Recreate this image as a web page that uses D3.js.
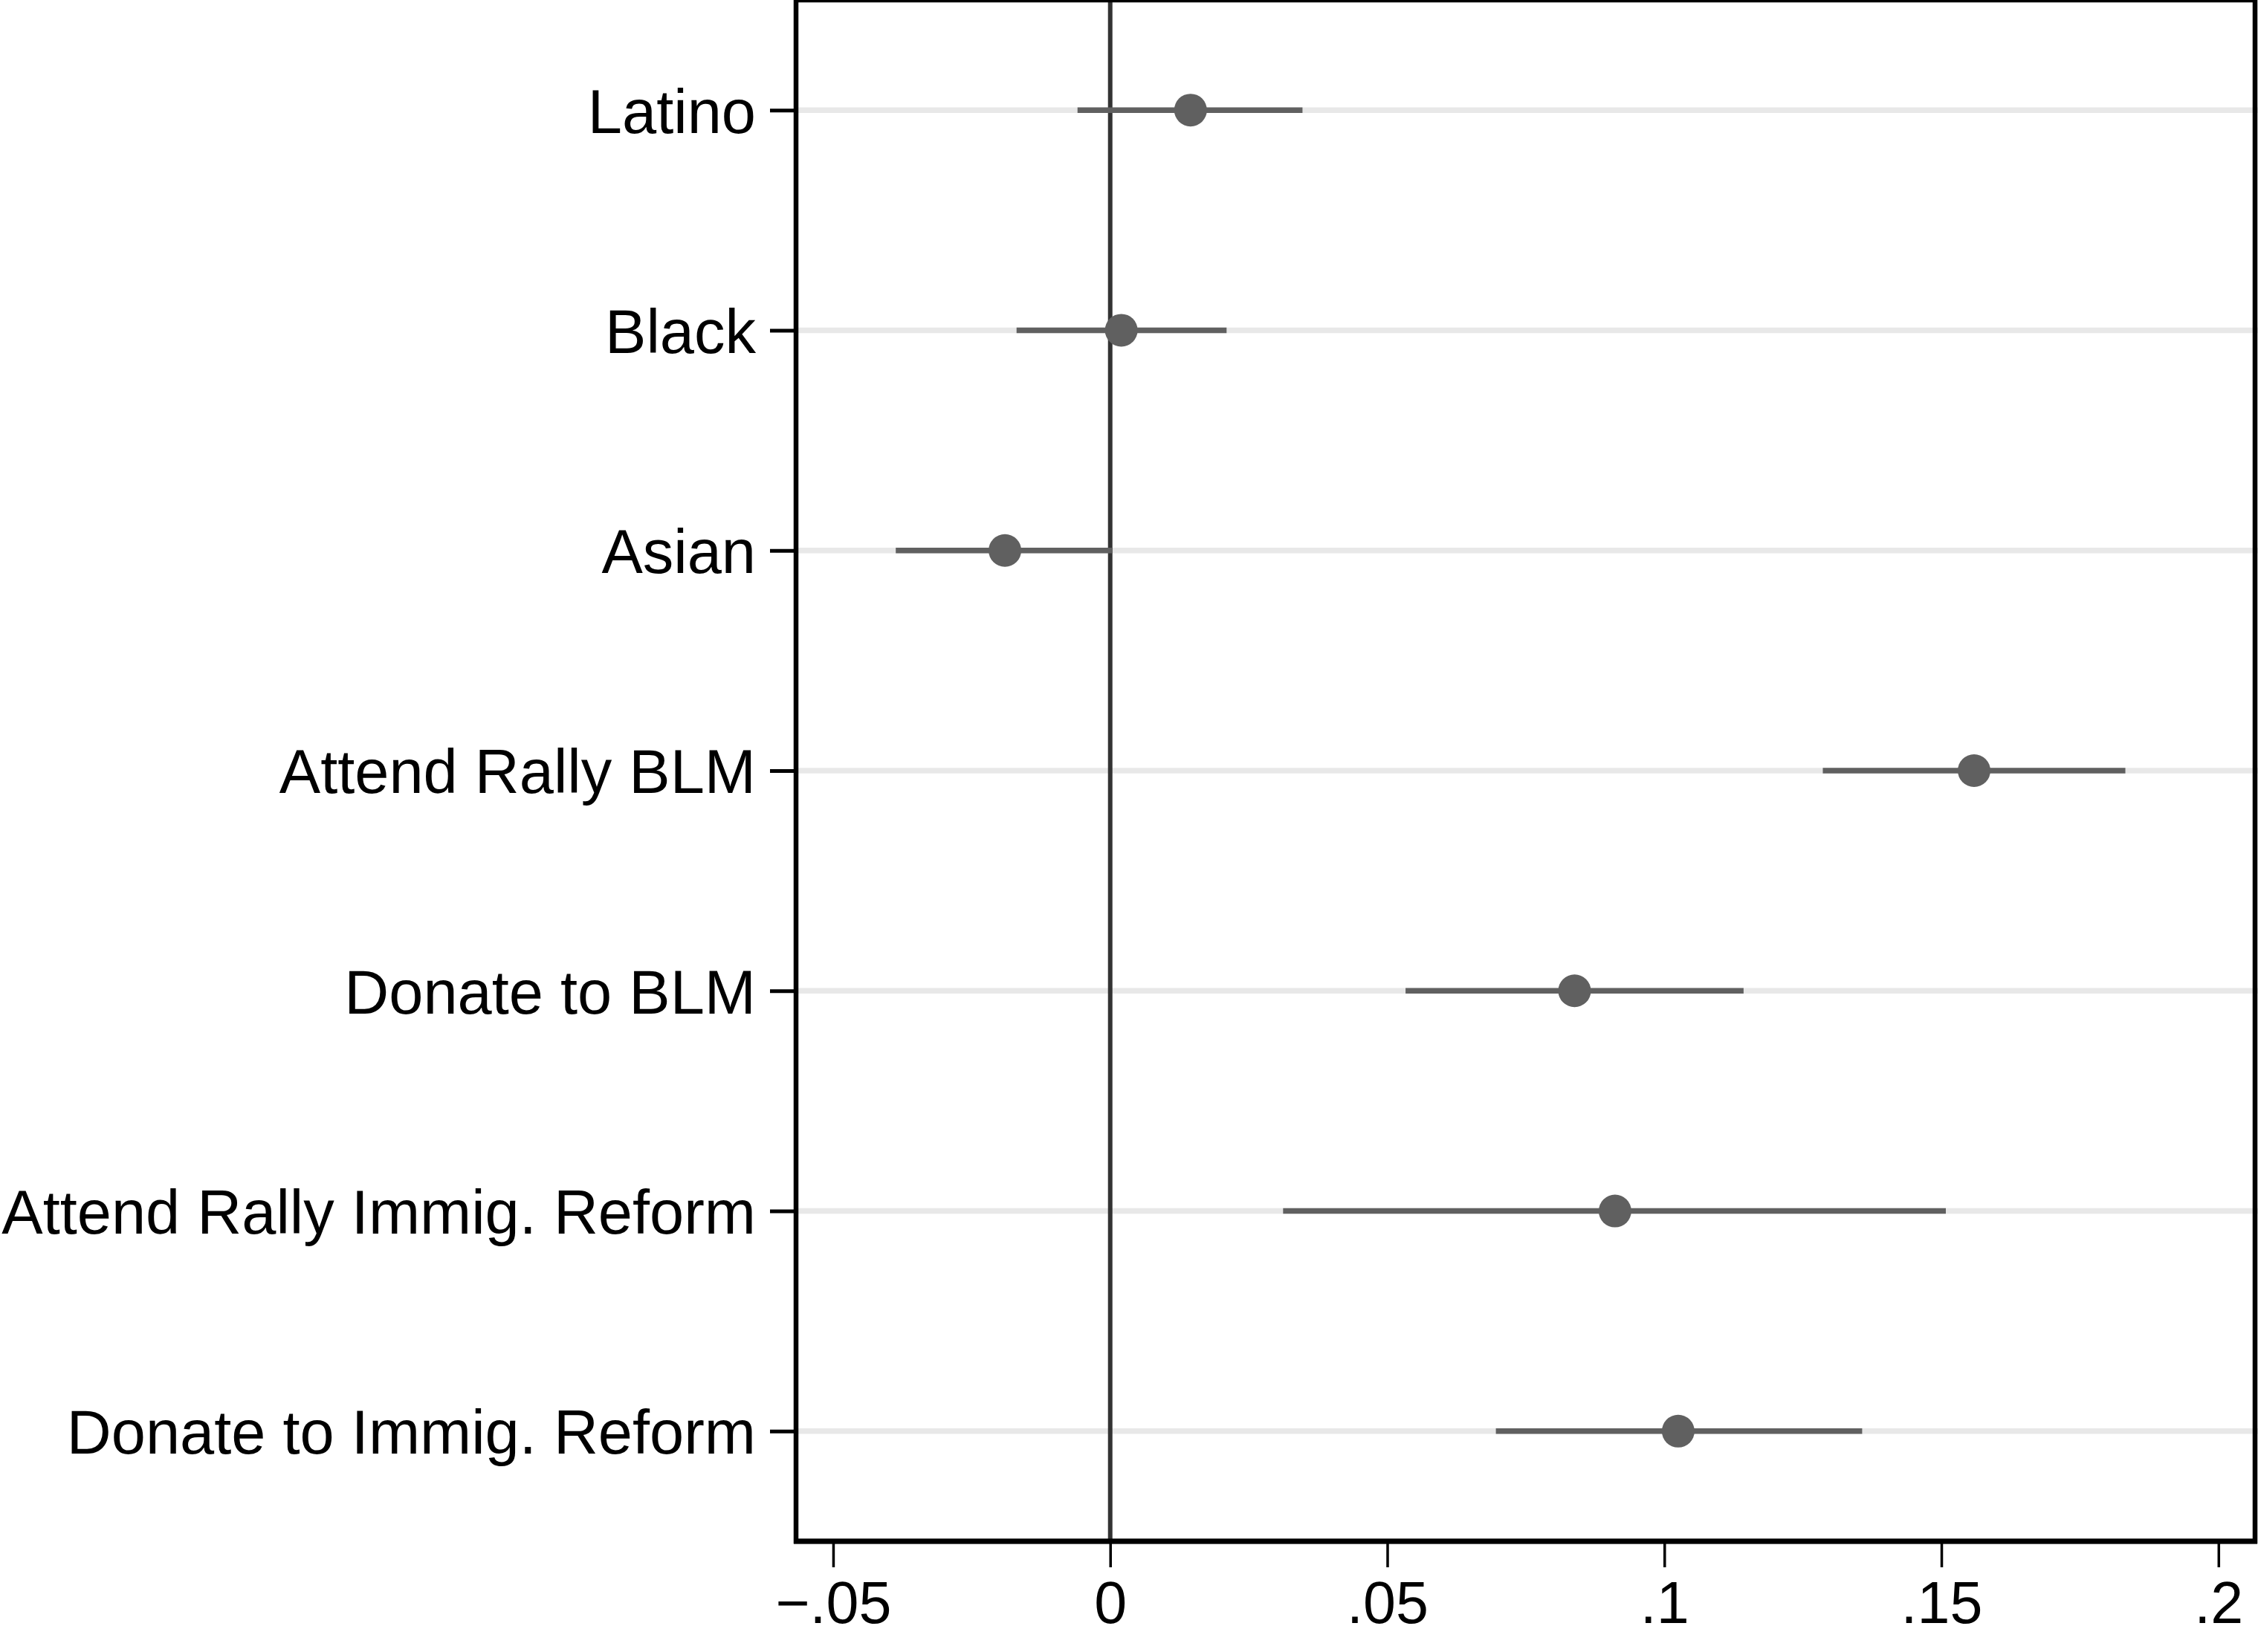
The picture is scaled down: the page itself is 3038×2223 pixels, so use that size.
<!DOCTYPE html>
<html>
<head>
<meta charset="utf-8">
<title>Coefficient plot</title>
<script src="https://d3js.org/d3.v7.min.js"></script>
<style>
    body { margin: 0; background: #fff; }
    svg { display: block; }
    .tick text { font-family: "Liberation Sans", Arial, Helvetica, sans-serif; fill: #000; }
</style>
</head>
<body>
<script>
(function(){    // wrapper

// Chart data
var categories = ["Latino", "Black", "Asian", "Attend Rally BLM", "Donate to BLM",
                  "Attend Rally Immig. Reform", "Donate to Immig. Reform"];
var estimates = [0.0145, 0.0020, -0.0190, 0.1559, 0.0838, 0.0911, 0.1025];
var ciLower   = [-0.0059, -0.0169, -0.0387, 0.1286, 0.0533, 0.0312, 0.0696];
var ciUpper   = [0.0347, 0.0210, 0.0004, 0.1832, 0.1143, 0.1508, 0.1357];
var xTicks = [-0.05, 0, 0.05, 0.1, 0.15, 0.2];
var xTickLabels = ["\u2212.05", "0", ".05", ".1", ".15", ".2"];

window.onload = setChart;

function setChart(){
    var width = 3038,
        height = 2223,
        plot = {left: 1071, right: 3034, top: 0, bottom: 2074};

    var svg = d3.select("body")
        .append("svg")
        .attr("width", width)
        .attr("height", height);

    // x runs a little past the labelled ticks on both sides
    var x = d3.scaleLinear()
        .domain([-0.0567, 0.2066])
        .range([plot.left, plot.right]);

    // one row per category, half a row of padding top and bottom
    var y = d3.scaleLinear()
        .domain([0.5, categories.length + 0.5])
        .range([plot.top, plot.bottom]);

    var rows = categories.map(function(c, i){
        return {name: c, pos: i + 1, est: estimates[i], lo: ciLower[i], hi: ciUpper[i]};
    });

    // light horizontal grid at each category
    svg.selectAll(".grid")
        .data(rows)
        .enter()
        .append("line")
        .attr("class", "grid")
        .attr("x1", plot.left)
        .attr("x2", width)
        .attr("y1", d => y(d.pos))
        .attr("y2", d => y(d.pos))
        .style("stroke", "#e8e8e8")
        .style("stroke-width", 7.5);

    // reference line at zero
    svg.append("line")
        .attr("x1", x(0))
        .attr("x2", x(0))
        .attr("y1", plot.top)
        .attr("y2", plot.bottom)
        .style("stroke", "#333")
        .style("stroke-width", 6);

    // confidence intervals
    svg.selectAll(".ci")
        .data(rows)
        .enter()
        .append("line")
        .attr("class", "ci")
        .attr("x1", d => x(d.lo))
        .attr("x2", d => x(d.hi))
        .attr("y1", d => y(d.pos))
        .attr("y2", d => y(d.pos))
        .style("stroke", "#606060")
        .style("stroke-width", 7.5);

    // point estimates
    svg.selectAll(".pt")
        .data(rows)
        .enter()
        .append("circle")
        .attr("class", "pt")
        .attr("cx", d => x(d.est))
        .attr("cy", d => y(d.pos))
        .attr("r", 22)
        .style("fill", "#606060");

    // plot frame
    svg.append("rect")
        .attr("x", plot.left)
        .attr("y", plot.top)
        .attr("width", plot.right - plot.left)
        .attr("height", plot.bottom - plot.top)
        .style("fill", "none")
        .style("stroke", "#000")
        .style("stroke-width", 6.5);

    // y axis with category labels
    var yAxis = d3.axisLeft(y)
        .tickValues(rows.map(d => d.pos))
        .tickFormat((d, i) => categories[i])
        .tickSize(33)
        .tickPadding(19);

    var gy = svg.append("g")
        .attr("transform", "translate(" + (plot.left - 2) + ",0)")
        .call(yAxis);
    gy.select(".domain").remove();
    gy.selectAll(".tick line").style("stroke", "#000").style("stroke-width", 5);
    gy.selectAll(".tick text")
        .style("font-size", "83px")
        .attr("dy", "0.36em");

    // x axis
    var xAxis = d3.axisBottom(x)
        .tickValues(xTicks)
        .tickFormat((d, i) => xTickLabels[i])
        .tickSize(35)
        .tickPadding(19);

    var gx = svg.append("g")
        .attr("transform", "translate(0," + plot.bottom + ")")
        .call(xAxis);
    gx.select(".domain").remove();
    gx.selectAll(".tick line").style("stroke", "#000").style("stroke-width", 3.5);
    gx.selectAll(".tick text").style("font-size", "79px");

    // heavier bottom axis line
    svg.append("line")
        .attr("x1", plot.left - 3)
        .attr("x2", plot.right + 3)
        .attr("y1", plot.bottom)
        .attr("y2", plot.bottom)
        .style("stroke", "#000")
        .style("stroke-width", 7);
}

})();
</script>
</body>
</html>
